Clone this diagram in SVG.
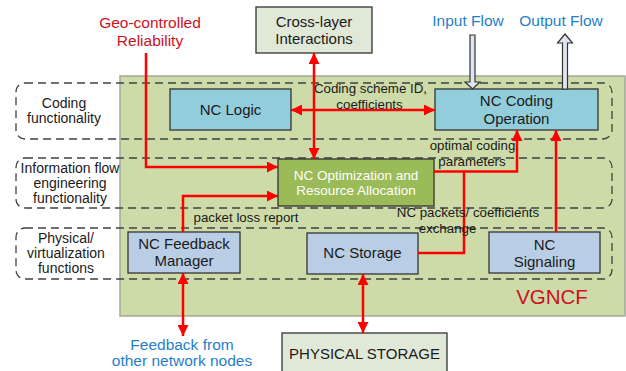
<svg xmlns="http://www.w3.org/2000/svg" width="626" height="371" viewBox="0 0 626 371">
<style>
text{font-family:"Liberation Sans",Arial,sans-serif;fill:#1a1a1a;text-anchor:middle}
.box{stroke:#333;stroke-width:1.3}
.t15{font-size:15px}
.t14{font-size:14px}
.lbl{font-size:13.3px}
.dash{fill:none;stroke:#404040;stroke-width:1.3;stroke-dasharray:8 5}
.red{stroke:#ff0000;stroke-width:2.5;fill:none}
.redtxt{fill:#cc1122}
.blue{fill:#1f7fc8;font-size:15.5px}
.flow{fill:#dfe6f0;stroke:#333;stroke-width:1.2}
</style>
<defs>
<marker id="ah" viewBox="0 0 10 10" refX="10" refY="5" markerWidth="11" markerHeight="11" markerUnits="userSpaceOnUse" orient="auto-start-reverse">
<path d="M0,0 L10,5 L0,10 Z" fill="#ff0000"/>
</marker>
</defs>
<rect width="626" height="371" fill="#ffffff"/>
<g id="vgncf">
<rect x="120" y="76" width="505" height="240" fill="#cddba8" stroke="#a3aa96" stroke-width="1.5"/>
<text x="552" y="304" class="redtxt" style="font-size:20.5px">VGNCF</text>
</g>
<g id="layer-coding">
<rect x="16" y="83" width="596" height="56" rx="9" class="dash"/>
<text x="64" y="108" class="t14">Coding</text>
<text x="64" y="123" class="t14">functionality</text>
</g>
<g id="layer-info">
<rect x="16" y="158" width="596" height="50" rx="9" class="dash"/>
<text x="70" y="173" class="t14">Information flow</text>
<text x="70" y="188" class="t14">engineering</text>
<text x="70" y="203" class="t14">functionality</text>
</g>
<g id="layer-physical">
<rect x="16" y="228" width="596" height="51" rx="9" class="dash"/>
<text x="66" y="243" class="t14">Physical/</text>
<text x="66" y="258" class="t14">virtualization</text>
<text x="66" y="273" class="t14">functions</text>
</g>
<g id="geo">
<text x="150" y="28" class="redtxt" style="font-size:15.5px">Geo-controlled</text>
<text x="150" y="46" class="redtxt" style="font-size:15.5px">Reliability</text>
</g>
<g id="cross-layer">
<rect x="256" y="7" width="116" height="46" fill="#e0e8d8" class="box"/>
<text x="314" y="27" class="t15">Cross-layer</text>
<text x="314" y="44" class="t15">Interactions</text>
</g>
<g id="input-flow">
<text x="468" y="26" class="blue">Input Flow</text>
</g>
<g id="output-flow">
<text x="561" y="26" class="blue">Output Flow</text>
</g>
<g id="nc-logic">
<rect x="170" y="89" width="121" height="41" fill="#92cddc" class="box"/>
<text x="230.5" y="115" class="t15">NC Logic</text>
</g>
<g id="nc-coding">
<rect x="435" y="89" width="163" height="41" fill="#92cddc" class="box"/>
<text x="516.5" y="106" class="t15">NC Coding</text>
<text x="516.5" y="124" class="t15">Operation</text>
</g>
<g id="nc-opt">
<rect x="278" y="159" width="156" height="47" fill="#9bbb59" class="box"/>
<text x="356" y="180" style="font-size:13.5px;fill:#ffffff">NC Optimization and</text>
<text x="356" y="195" style="font-size:13.5px;fill:#ffffff">Resource Allocation</text>
</g>
<g id="nc-feedback">
<rect x="128" y="232" width="112" height="41" fill="#b9cde5" class="box"/>
<text x="184" y="249" class="t15">NC Feedback</text>
<text x="184" y="266" class="t15">Manager</text>
</g>
<g id="nc-storage">
<rect x="307" y="233" width="111" height="41" fill="#b9cde5" class="box"/>
<text x="362.5" y="258" class="t15">NC Storage</text>
</g>
<g id="nc-signaling">
<rect x="489" y="232" width="111" height="41" fill="#b9cde5" class="box"/>
<text x="544.5" y="250" class="t15">NC</text>
<text x="544.5" y="267" class="t15">Signaling</text>
</g>
<g id="physical-storage">
<rect x="282" y="333" width="165" height="45" fill="#e0e8d8" class="box"/>
<text x="364.5" y="359" class="t15">PHYSICAL STORAGE</text>
</g>
<g id="feedback-nodes">
<text x="182" y="350" class="blue">Feedback from</text>
<text x="182" y="366" class="blue">other network nodes</text>
</g>
<g id="connectors">
<line x1="314" y1="53" x2="314" y2="159" class="red" marker-start="url(#ah)" marker-end="url(#ah)"/>
<line x1="291" y1="110" x2="435" y2="110" class="red" marker-start="url(#ah)" marker-end="url(#ah)"/>
<path d="M146,53 V167 H278" class="red" marker-end="url(#ah)"/>
<path d="M183,232 V196 H278" class="red" marker-end="url(#ah)"/>
<path d="M434,171.5 H517 V130" class="red" marker-end="url(#ah)"/>
<path d="M418,253 H464 V171.5" class="red"/>
<line x1="556" y1="232" x2="556" y2="130" class="red" marker-end="url(#ah)"/>
<line x1="183" y1="273" x2="183" y2="336" class="red" marker-start="url(#ah)" marker-end="url(#ah)"/>
<line x1="363" y1="274" x2="363" y2="333" class="red" marker-start="url(#ah)" marker-end="url(#ah)"/>
<polygon points="470,35 475,35 475,82 480,82 472.5,89 465,82 470,82" class="flow"/>
<polygon points="562.5,89 567.5,89 567.5,43 572.5,43 565,34 557.5,43 562.5,43" class="flow"/>
<text x="370.5" y="93" class="lbl">Coding scheme ID,</text>
<text x="369.5" y="109" class="lbl">coefficients</text>
<text x="472.5" y="150" class="lbl">optimal coding</text>
<text x="472" y="166" class="lbl">parameters</text>
<text x="468" y="217" class="lbl">NC packets/  coefficients</text>
<text x="447.5" y="233" class="lbl">exchange</text>
<text x="246" y="222" class="lbl">packet loss report</text>
</g>
</svg>
